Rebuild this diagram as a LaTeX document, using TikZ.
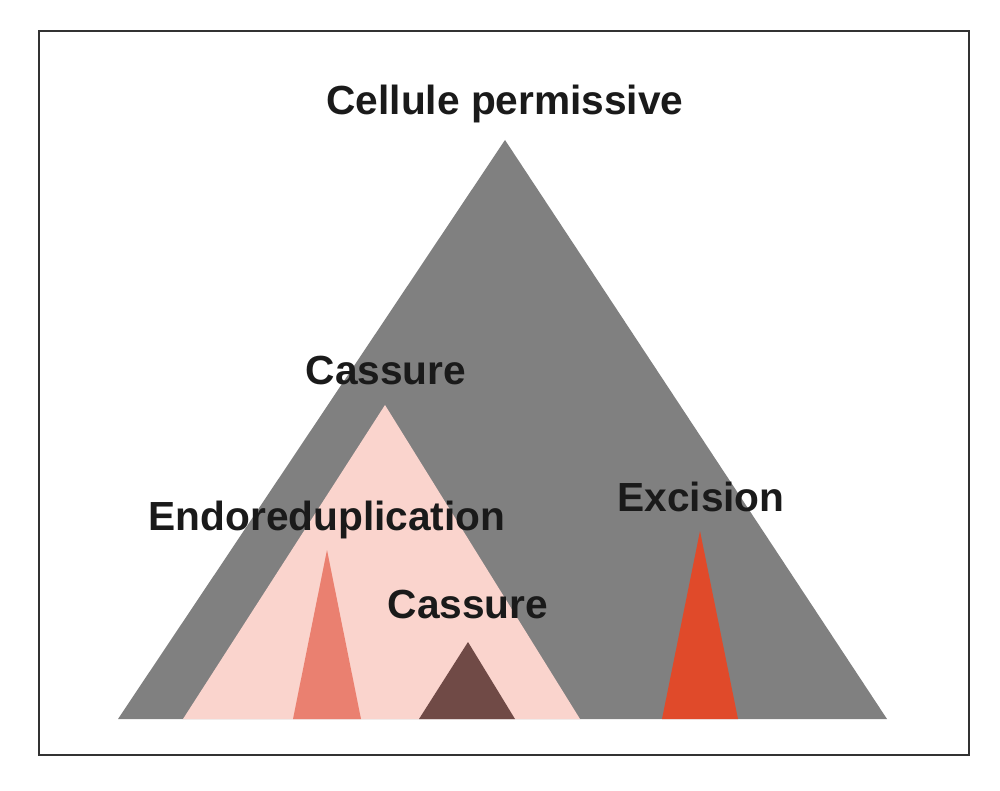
\documentclass[tikz,border=0pt]{standalone}
\usepackage{fontspec}
\setmainfont{Liberation Sans}
\definecolor{bggray}{RGB}{128,128,128}
\definecolor{lightpink}{RGB}{250,212,205}
\definecolor{salmon}{RGB}{234,128,112}
\definecolor{darkbrown}{RGB}{112,74,70}
\definecolor{redorange}{RGB}{224,74,42}
\definecolor{framecol}{RGB}{50,50,50}
\definecolor{txt}{RGB}{26,26,26}
\begin{document}
\begin{tikzpicture}[x=0.75pt,y=-0.75pt,
  lbl/.style={font=\fontsize{30.5}{36}\selectfont\bfseries, text=txt, anchor=base, inner sep=0pt}]
\useasboundingbox[fill=white] (0,0) rectangle (1000,791);
\draw[framecol, line width=1.6pt] (39,31) rectangle (969,755);
% triangles
\fill[bggray] (118,719) -- (505,140) -- (887,719) -- cycle;
\fill[lightpink] (183,719) -- (385,405) -- (580,719) -- cycle;
\fill[salmon] (293,719) -- (327,550) -- (361,719) -- cycle;
\fill[darkbrown] (419,719) -- (468,642) -- (515,719) -- cycle;
\fill[redorange] (662,719) -- (700,531) -- (738,719) -- cycle;
% labels
\node[lbl] (top) at (505,115) {Cellule permissive};
\node[lbl] (cass1) at (386,385) {Cassure};
\node[lbl] (endo) at (327,530) {Endoreduplication};
\node[lbl] (cass2) at (468,618) {Cassure};
\node[lbl] (exc) at (701,512) {Excision};
\end{tikzpicture}
\end{document}
